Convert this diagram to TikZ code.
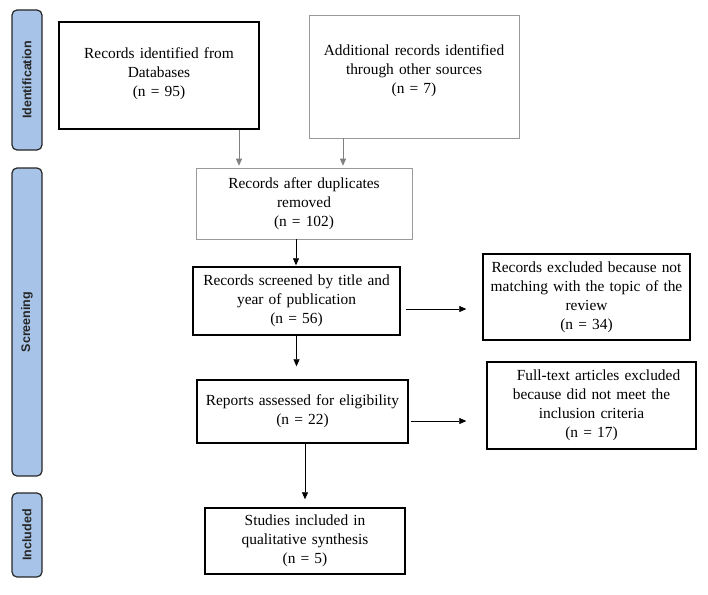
\documentclass[tikz,border=0pt]{standalone}
\usepackage{fontspec}
\setmainfont{Liberation Serif}
\newfontfamily\barfont{Liberation Sans}
\usetikzlibrary{arrows.meta}
\definecolor{barblue}{RGB}{167,196,232}
\tikzset{
	box/.style={draw,line width=1.4pt,align=center,inner sep=2pt,font=\fontsize{15.4}{19}\selectfont},
	greybox/.style={box,draw=gray!80,line width=0.6pt},
	phase/.style={draw=black!85,line width=1.2pt,fill=barblue,rounded corners=5pt,minimum width=30pt,
		text=black!85,font=\barfont\bfseries\fontsize{12.5}{14}\selectfont},
	arr/.style={-{Triangle[length=7pt,width=6pt]},line width=0.6pt},
	grarr/.style={arr,draw=gray}
}
\begin{document}
\begin{tikzpicture}[x=1pt,y=-1pt]
	\useasboundingbox (0,0) rectangle (708,594);
	%phases
	\node[phase,minimum height=140pt] (ident) at (27,80) {\rotatebox{90}{Identification}};
	\node[phase,minimum height=308pt] (scr) at (27,322) {\rotatebox{90}{Screening}};
	\node[phase,minimum height=84pt] (inc) at (27,535) {\rotatebox{90}{Included}};
	%boxes
	\node[box,text width=190pt,minimum width=200pt,minimum height=107pt] (db) at (159,75.5) {Records identified from\\Databases\\(n = 95)\\[-12pt]\mbox{}};
	\node[greybox,text width=200pt,minimum width=210pt,minimum height=123pt] (other) at (414,76.5) {Additional records identified\\through other sources\\(n = 7)\\[-5pt]\mbox{}};
	\node[greybox,text width=206pt,minimum width=216pt,minimum height=71pt] (dup) at (304,203.5) {Records after duplicates\\removed\\(n = 102)};
	\node[box,text width=197pt,minimum width=207pt,minimum height=68pt] (screen) at (296.5,301) {Records screened by title and\\year of publication\\(n = 56)};
	\node[box,text width=200pt,minimum width=207pt,minimum height=86pt] (excl1) at (586.5,297) {Records excluded because not\\matching with the topic of the\\review\\(n = 34)};
	\node[box,text width=201pt,minimum width=211pt,minimum height=63pt] (elig) at (302.5,411.5) {Reports assessed for eligibility\\(n = 22)};
	\node[box,text width=199pt,minimum width=209pt,minimum height=87pt] (excl2) at (591.5,405.5) {\hspace*{14pt}Full-text articles excluded\\because did not meet the\\inclusion criteria\\(n = 17)};
	\node[box,text width=190pt,minimum width=200pt,minimum height=66pt] (incl) at (305,541) {Studies included in\\qualitative synthesis\\(n = 5)};
	%arrows
	\draw[grarr,shorten >=2pt] ([xshift=80pt]db.south) -- ([xshift=80pt]db.south |- dup.north);
	\draw[grarr,shorten >=2pt] ([xshift=-71pt]other.south) -- ([xshift=-71pt]other.south |- dup.north);
	\draw[arr,shorten >=1pt] ([xshift=-8pt]dup.south) -- ([xshift=-8pt]dup.south |- screen.north);
	\draw[arr,shorten <=5pt,shorten >=16pt] ([yshift=-8pt]screen.east) -- ([yshift=-8pt]screen.east -| excl1.west);
	\draw[arr,shorten >=13pt] (screen.south) -- (screen.south |- elig.north);
	\draw[arr,shorten <=2pt,shorten >=20pt] ([yshift=-9.5pt]elig.east) -- ([yshift=-9.5pt]elig.east -| excl2.west);
	\draw[arr,shorten >=8pt] ([xshift=2.5pt]elig.south) -- ([xshift=2.5pt]elig.south |- incl.north);
\end{tikzpicture}
\end{document}
